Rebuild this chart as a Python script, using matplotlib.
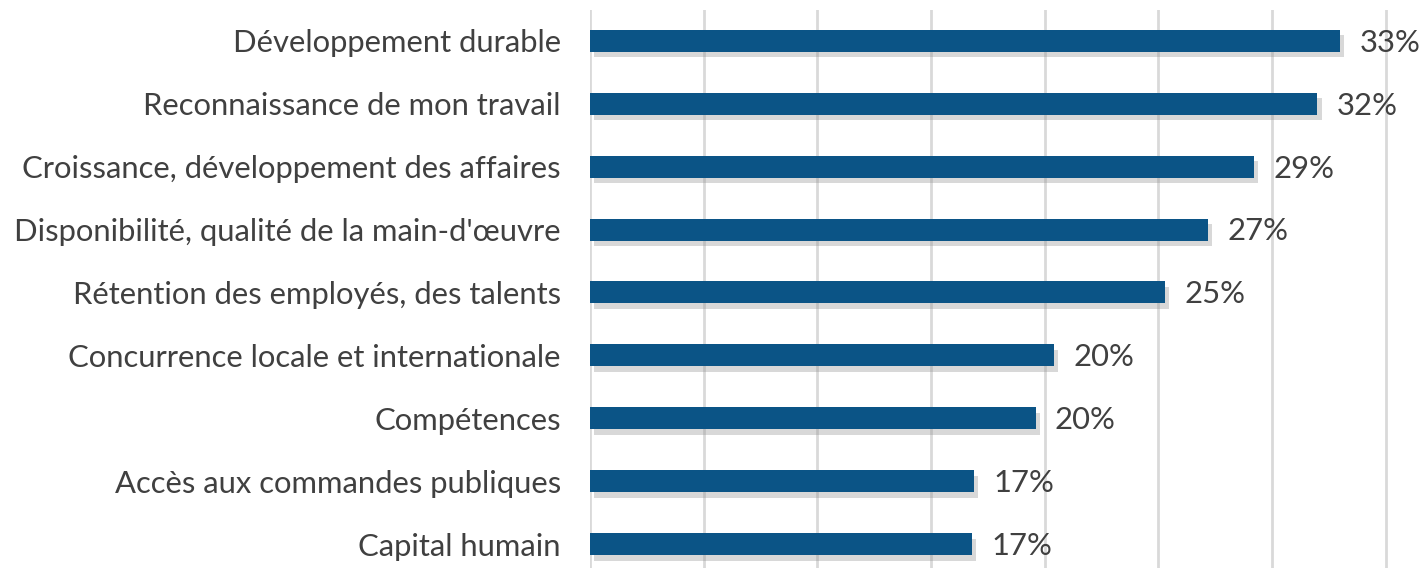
import numpy as np
from matplotlib import pyplot as plt
from matplotlib import patheffects as pe

plt.rcParams['font.family'] = ['Lato', 'DejaVu Sans']

categories = [
    "Développement durable",
    "Reconnaissance de mon travail",
    "Croissance, développement des affaires",
    "Disponibilité, qualité de la main-d'œuvre",
    "Rétention des employés, des talents",
    "Concurrence locale et internationale",
    "Compétences",
    "Accès aux commandes publiques",
    "Capital humain",
]
values = [33.0, 32.0, 29.2, 27.2, 25.3, 20.4, 19.6, 16.9, 16.8]
labels = ["33%", "32%", "29%", "27%", "25%", "20%", "20%", "17%", "17%"]

bar_color = "#0b5486"
text_color = "#404040"
grid_color = "#d9d9d9"

fig = plt.figure(figsize=(14.25, 5.68), dpi=100)
ax = fig.add_axes([590 / 1425, 0.0, 835 / 1425, 1 - 10 / 568])

y = np.arange(len(categories))
bars = ax.barh(y, values, height=0.35, color=bar_color, zorder=3)
for b in bars:
    b.set_path_effects([
        pe.SimplePatchShadow(offset=(3, -4), shadow_rgbFace="#909090", alpha=0.35),
        pe.Normal(),
    ])

for yi, v, lab in zip(y, values, labels):
    ax.text(v + 0.85, yi + 0.03, lab, va="center", ha="left", fontsize=22.3, color=text_color)

ax.set_xlim(0, 835 / 22.73)
ax.set_ylim(8.38, -0.49)
ax.set_xticks(np.arange(0, 36, 5))
ax.set_yticks(y)
ax.set_yticklabels(categories, fontsize=22.3, color=text_color)
ax.tick_params(axis="y", length=0, pad=21)
ax.tick_params(axis="x", length=0, labelbottom=False)
ax.grid(axis="x", color=grid_color, linewidth=2, zorder=0)
for s in ax.spines.values():
    s.set_visible(False)

fig.savefig("out.png", dpi=100)
